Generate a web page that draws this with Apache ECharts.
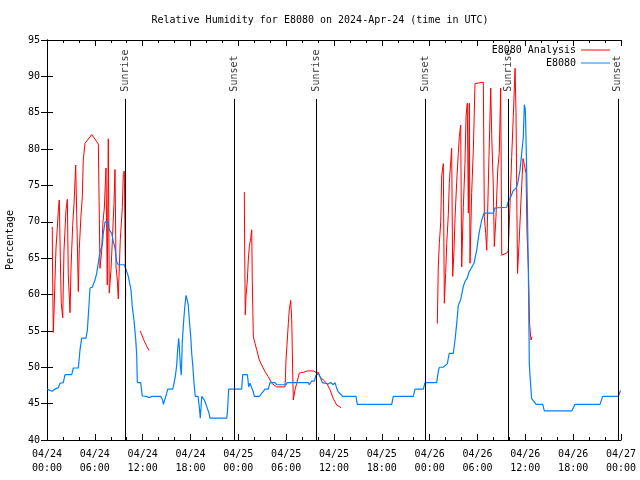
<!DOCTYPE html>
<html><head><meta charset="utf-8">
<script src="https://cdn.jsdelivr.net/npm/echarts@6/dist/echarts.min.js"></script>
<style>html,body{margin:0;padding:0;background:#fff}#c{width:640px;height:480px}</style>
</head><body><div id="c"></div>
<script>
const titleText = 'Relative Humidity for E8080 on 2024-Apr-24 (time in UTC)';
const yAxisName = 'Percentage';
const xTickLabels = ['04/24\n00:00','04/24\n06:00','04/24\n12:00','04/24\n18:00','04/25\n00:00','04/25\n06:00','04/25\n12:00','04/25\n18:00','04/26\n00:00','04/26\n06:00','04/26\n12:00','04/26\n18:00','04/27\n00:00'];
const seriesNames = ['E8080 Analysis', 'E8080'];
// hours since 2024-04-24 00:00 UTC
const sunHours = [9.87, 23.5, 33.78, 47.5, 57.87, 71.6];
const sunNames = ['Sunrise','Sunset','Sunrise','Sunset','Sunrise','Sunset'];

const blueHours = [0.04,0.66,1.0,1.42,1.63,2.04,2.26,2.47,3.1,3.3,3.93,4.14,4.35,4.89,5.06,5.27,5.39,5.68,6.02,6.23,6.36,6.65,6.94,7.06,7.28,7.69,7.81,8.12,8.32,8.53,8.74,8.94,9.70,9.87,10.2,10.54,10.7,10.91,11.13,11.25,11.33,11.75,11.95,12.5,12.83,13.13,14.26,14.51,14.59,14.84,15.01,15.14,15.77,15.93,16.09,16.27,16.39,16.52,16.6,16.72,16.85,16.97,17.15,17.31,17.44,17.6,17.72,17.85,18.03,18.15,18.28,18.44,18.6,18.94,19.1,19.23,19.41,19.61,19.73,19.91,20.11,20.32,20.45,22.54,22.62,22.79,24.42,24.55,25.13,25.31,25.46,25.68,25.88,26.0,26.63,26.84,27.35,27.76,27.97,28.6,28.81,29.98,30.14,31.11,31.32,31.74,32.78,32.9,33.2,33.53,33.71,34.03,34.33,34.53,34.75,35.29,35.59,35.91,36.13,36.34,36.54,37.09,38.76,38.92,43.24,43.44,45.95,46.16,47.2,47.42,48.88,49.08,49.21,49.71,49.92,50.21,50.46,50.96,51.18,51.39,51.59,51.89,52.22,52.43,52.72,52.94,53.19,53.56,53.9,54.19,54.53,54.82,55.98,56.19,56.41,57.66,57.86,58.08,58.29,58.49,58.83,59.04,59.33,59.54,59.75,59.87,60.0,60.09,60.25,60.38,60.5,60.58,60.79,61.08,61.34,62.18,62.38,65.82,66.23,69.37,69.7,71.66,71.88,71.96];
const blueValues = [47,46.7,47,47.2,47.8,47.9,49.0,48.8,49.0,49.9,49.9,52.4,54.0,54.0,55.1,58.6,60.9,61.0,62.0,62.9,63.8,65.9,66.8,68.4,70.0,70.0,68.9,68.4,67.3,66.4,64.5,64.1,64.1,63.6,62.5,60.6,58.3,56.5,53.8,51.7,47.9,47.9,46.05,46,45.8,46,46,45.5,44.9,44.9,46.4,47,47,47.8,48.7,50.3,52.4,54.0,52.8,50.3,48.9,53.5,56.5,58.6,59.9,59.9,58.6,56.5,54.2,51.9,50.3,47.8,46,46,44.6,43.0,46,46,45.5,45,45,43.7,43,43,43.7,47,47,49,49,47.3,47.8,47.7,46.6,46,46,45.8,47,47,47.9,47.9,47.6,47.6,47.9,47.9,47.7,47.9,47.9,47.6,48.1,48.1,48.8,49.2,48.5,47.9,47.7,47.7,47.9,47.6,47.9,47.1,46.6,46,46,44.9,44.9,46,46,47,47,47.9,47.9,49.4,50,50,49.9,50.5,51.9,51.9,53.75,56,58.5,59.3,61.1,61.8,62.3,63.1,63.3,64.3,66.1,68.4,70.25,71.2,71.2,71.9,72,72,72.8,73.2,73.2,74.3,74.6,75.3,77.1,79.4,81.7,86.1,85.4,81.25,72.5,63,50.5,48.9,45.7,45.3,44.9,44.9,44,44,44.9,44.9,46,46,46.6,46.8];

const red1Hours = [0.66,0.70,0.79,0.88,1.0,1.13,1.29,1.42,1.54,1.67,1.79,1.97,2.13,2.38,2.55,2.67,2.89,3.01,3.22,3.39,3.6,3.8,3.93,4.05,4.26,4.43,4.55,4.77,5.61,6.44,6.65,6.86,7.02,7.19,7.4,7.56,7.69,7.81,8.03,8.22,8.4,8.53,8.66,8.82,8.94,9.03,9.19,9.45,9.57,9.7,9.78,9.87];
const red1Values = [69.3,62.7,54.8,57.5,62,66.4,69.1,71.6,73,65,58.8,56.8,66,71.6,73.1,62.7,57.5,63.5,69.5,72.5,77.8,77.8,60.4,66.3,70.8,73.5,78.5,80.8,82,80.7,63.6,66,70,71.9,77.4,61.3,81.4,60.2,63.5,68,72.5,77.2,63.8,62,59.4,62.5,67.5,72,76.5,77,68.4,59.7];
const red2Hours = [11.67,11.85,12.04,12.29,12.54,12.83];
const red2Values = [55,54.6,54.0,53.4,52.8,52.3];
const red3Hours = [24.75,24.80,24.87,24.96,25.13,25.25,25.38,25.55,25.68,25.75,25.88,26.09,26.31,26.63,26.93,27.35,27.76,28.19,28.81,29.86,29.98,30.14,30.27,30.39,30.57,30.7,30.82,30.9,31.11,31.32,31.65,32.15,32.65,33.41,33.74,34.03,34.25,34.66,35.09,35.5,35.91,36.34,36.88];
const red3Values = [74.1,65.7,57.2,59.7,62,64.75,66.6,67.7,68.9,61.8,54.2,53.3,52.4,51.0,50.3,49.4,48.7,47.8,47.3,47.3,51,53.75,56.0,57.9,59.2,56.5,49.2,45.5,46.9,47.8,49.2,49.3,49.5,49.5,49.3,49.3,48.7,48.25,47.8,46.9,45.7,44.8,44.45];
const red4Hours = [48.96,49.08,49.21,49.39,49.51,49.71,49.84,50.01,50.14,50.34,50.46,50.64,50.76,50.89,51.05,51.18,51.39,51.59,51.72,51.89,52.02,52.22,52.43,52.56,52.72,52.85,52.97,53.06,53.27,53.48,53.69,54.73,54.86,55.03,55.16,55.44,55.66,55.78,55.98,56.11,56.32,56.53,56.73,56.91,57.04,57.66,57.86,58.08,58.29,58.49,58.71,58.83,59.02,59.21,59.46,59.71,59.9,60.09,60.21,60.38,60.53,60.71,60.84];
const red4Values = [56.0,63.8,67.0,70.0,76.4,78.0,58.8,63,67,71,75.3,78.25,80.1,62.5,66,70.5,75.5,79.4,81.7,83.3,63.8,72,78,84.5,86.3,71.2,86.3,64.3,74,80,89.0,89.2,70.7,68.4,66.1,79,88.4,82,75,66.6,70.7,77,79.5,88.4,65.4,65.7,66,72.5,79,84.5,91.1,85,62.9,67,73,78.7,78.8,76.7,68.4,63.8,56,53.75,54.2];

const sunLineTop = 86.9;
const sunLabelAnchor = 87.9;

const FONT = 'DejaVu Sans Mono';
const zip = (a, b) => a.map((h, i) => [h, b[i]]);
const redColor = '#ff0000', blueColor = '#0080ff';

const redSegs = [[red1Hours, red1Values],[red2Hours, red2Values],[red3Hours, red3Values],[red4Hours, red4Values]];

const series = [];
series.push({
  type: 'scatter', name: 'sun', symbolSize: 1, itemStyle: {color: 'rgba(0,0,0,0)'},
  silent: true, z: 1,
  data: sunHours.map((h, i) => ({value: [h, sunLabelAnchor], name: sunNames[i]})),
  label: {show: true, formatter: '{b}', rotate: 90, position: 'inside', align: 'left', verticalAlign: 'middle',
    fontFamily: FONT, fontSize: 10, color: '#000'},
  markLine: {silent: true, symbol: 'none', animation: false, label: {show: false},
    lineStyle: {color: '#000', width: 1, type: 'solid'},
    data: sunHours.map(h => [{coord: [h, 40]}, {coord: [h, sunLineTop]}])}
});
redSegs.forEach(([hs, vs]) => series.push({
  type: 'line', name: seriesNames[0], data: zip(hs, vs), symbol: 'none', showSymbol: false,
  lineStyle: {color: redColor, width: 1}, itemStyle: {color: redColor}, z: 2, animation: false
}));
series.push({
  type: 'line', name: seriesNames[1], data: zip(blueHours, blueValues), symbol: 'none', showSymbol: false,
  lineStyle: {color: blueColor, width: 1.2}, itemStyle: {color: blueColor}, z: 3, animation: false
});

const tickCommon = {
  axisLine: {show: true, lineStyle: {color: '#000', width: 1}},
  splitLine: {show: false},
};
const chart = echarts.init(document.getElementById('c'), null, {renderer: 'canvas'});
chart.setOption({
  backgroundColor: '#fff',
  animation: false,
  title: {text: titleText, left: 'center', top: 10, textStyle: {fontFamily: FONT, fontSize: 10, fontWeight: 'normal', color: '#000'}},
  legend: {
    data: seriesNames, orient: 'vertical', right: 25, top: 40, align: 'right', itemWidth: 29, itemHeight: 10, itemGap: 3,
    textStyle: {fontFamily: FONT, fontSize: 10, color: '#000'}, icon: 'path://M0,5 L30,5 L30,6 L0,6 Z',
    selectedMode: false
  },
  grid: {left: 47, right: 19, top: 40, bottom: 40, containLabel: false, outerBoundsMode: 'none'},
  xAxis: [
    Object.assign({type: 'value', min: 0, max: 72, interval: 6, position: 'bottom',
      axisTick: {show: true, inside: true, length: 6, lineStyle: {color: '#000'}},
      minorTick: {show: true, splitNumber: 3, length: 3, lineStyle: {color: '#000'}},
      axisLabel: {formatter: v => xTickLabels[Math.round(v / 6)], fontFamily: FONT, fontSize: 10, color: '#000', lineHeight: 14, margin: 7}
    }, tickCommon),
    Object.assign({type: 'value', min: 0, max: 72, interval: 6, position: 'top',
      axisTick: {show: true, inside: true, length: 6, lineStyle: {color: '#000'}},
      minorTick: {show: true, splitNumber: 3, length: 3, lineStyle: {color: '#000'}},
      axisLabel: {show: false}
    }, tickCommon)
  ],
  yAxis: [
    Object.assign({type: 'value', min: 40, max: 95, interval: 5, position: 'left',
      name: yAxisName, nameLocation: 'middle', nameRotate: 90, nameGap: 32,
      nameTextStyle: {fontFamily: FONT, fontSize: 10, color: '#000'},
      axisTick: {show: true, inside: true, length: 6, lineStyle: {color: '#000'}},
      axisLabel: {fontFamily: FONT, fontSize: 10, color: '#000', margin: 7}
    }, tickCommon),
    Object.assign({type: 'value', min: 40, max: 95, interval: 5, position: 'right',
      axisTick: {show: true, inside: true, length: 6, lineStyle: {color: '#000'}},
      axisLabel: {show: false}
    }, tickCommon)
  ],
  series: series
});
</script></body></html>
